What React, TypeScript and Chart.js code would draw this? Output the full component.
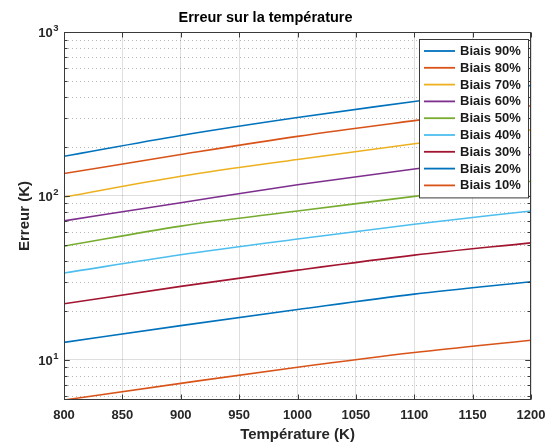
import { useEffect, useRef } from "react";
import { Chart, registerables } from "chart.js";

Chart.register(...registerables);

const temperatures = [800, 900, 1000, 1100, 1200];
const seriesLabels = ["Biais 90%", "Biais 80%", "Biais 70%", "Biais 60%", "Biais 50%", "Biais 40%", "Biais 30%", "Biais 20%", "Biais 10%"];
const bias90 = [174.6, 234, 301, 377, 472];
const bias80 = [137, 179, 231, 288, 355];
const bias70 = [98.6, 132, 167, 208, 253];
const bias60 = [70.5, 91, 117, 146, 179];
const bias50 = [49.4, 65.5, 81, 99.5, 123];
const bias40 = [33.9, 43.8, 54.6, 67.3, 81];
const bias30 = [22.0, 28.1, 35.3, 43.6, 51.8];
const bias20 = [12.8, 16.2, 20.3, 25.2, 30.0];
const bias10 = [5.7, 7.2, 9.03, 11.1, 13.2];
const seriesValues = [bias90, bias80, bias70, bias60, bias50, bias40, bias30, bias20, bias10];
const seriesColors = ["#0072BD", "#D95319", "#EDB120", "#7E2F8E", "#77AC30", "#4DBEEE", "#A2142F", "#0072BD", "#D95319"];
const yDecades = [10, 100, 1000];
const yExponents = ["1", "2", "3"];
const xMin = 800;
const xMax = 1200;
const xStep = 50;

const FONT = "'Liberation Sans', Arial, Helvetica, sans-serif";
const FRAME = "#3a3a3a";

const matlabAxes = {
  id: "matlabAxes",
  beforeDatasetsDraw(chart: any) {
    const { ctx, chartArea: a, scales } = chart;
    const y = scales.y;
    ctx.save();
    ctx.strokeStyle = "rgba(0,0,0,0.28)";
    ctx.lineWidth = 1;
    ctx.setLineDash([1, 3]);
    for (const d of [1, 10, 100]) {
      for (let m = 2; m <= 9; m++) {
        const v = m * d;
        if (v <= y.min || v >= y.max) continue;
        const py = Math.round(y.getPixelForValue(v)) + 0.5;
        ctx.beginPath();
        ctx.moveTo(a.left, py);
        ctx.lineTo(a.right, py);
        ctx.stroke();
      }
    }
    ctx.restore();
  },
  afterDraw(chart: any) {
    const { ctx, chartArea: a, scales } = chart;
    const x = scales.x;
    const y = scales.y;
    ctx.save();
    ctx.strokeStyle = FRAME;
    ctx.lineWidth = 1;
    ctx.setLineDash([]);
    const L = Math.round(a.left) + 0.5;
    const R = Math.round(a.right) - 0.5;
    const T = Math.round(a.top) + 0.5;
    const B = Math.round(a.bottom) - 0.5;
    ctx.strokeRect(L, T, R - L, B - T);
    ctx.beginPath();
    for (let v = xMin; v <= xMax; v += xStep) {
      const px = Math.round(x.getPixelForValue(v)) + 0.5;
      ctx.moveTo(px, B);
      ctx.lineTo(px, B - 5);
      ctx.moveTo(px, T);
      ctx.lineTo(px, T + 5);
    }
    for (const d of [1, 10, 100]) {
      for (let m = 1; m <= 10; m++) {
        const v = m * d;
        if (v < y.min || v > y.max) continue;
        const len = m === 1 || m === 10 ? 5 : 3;
        const py = Math.round(y.getPixelForValue(v)) + 0.5;
        ctx.moveTo(L, py);
        ctx.lineTo(L + len, py);
        ctx.moveTo(R, py);
        ctx.lineTo(R - len, py);
      }
    }
    ctx.stroke();

    // y tick labels as 10 with superscript exponent
    ctx.fillStyle = "#262626";
    ctx.textBaseline = "alphabetic";
    yDecades.forEach((v, i) => {
      const py = y.getPixelForValue(v);
      ctx.font = `bold 9.5px ${FONT}`;
      const expW = ctx.measureText(yExponents[i]).width;
      const right = L - 6;
      ctx.textAlign = "right";
      ctx.fillText(yExponents[i], right, py - 1);
      ctx.font = `bold 13px ${FONT}`;
      ctx.fillText("10", right - expW - 0.5, py + 5);
    });

    // legend
    const boxRight = Math.round(a.right) - 3;
    const boxLeft = boxRight - 109;
    const boxTop = Math.round(a.top) + 7;
    const rowH = 16.8;
    const n = chart.data.datasets.length;
    const boxBottom = boxTop + 12 + (n - 1) * rowH + 12;
    ctx.fillStyle = "#ffffff";
    ctx.fillRect(boxLeft, boxTop, boxRight - boxLeft, boxBottom - boxTop);
    ctx.strokeStyle = FRAME;
    ctx.strokeRect(boxLeft + 0.5, boxTop + 0.5, boxRight - boxLeft, boxBottom - boxTop);
    ctx.font = `bold 13px ${FONT}`;
    ctx.textBaseline = "middle";
    ctx.textAlign = "left";
    chart.data.datasets.forEach((ds: any, i: number) => {
      const cy = boxTop + 12 + i * rowH;
      ctx.strokeStyle = ds.borderColor;
      ctx.lineWidth = 1.8;
      ctx.beginPath();
      ctx.moveTo(boxLeft + 5, cy);
      ctx.lineTo(boxLeft + 36, cy);
      ctx.stroke();
      ctx.fillStyle = "#1a1a1a";
      ctx.fillText(ds.label, boxLeft + 41, cy + 0.5);
    });
    ctx.restore();
  },
};

export default function App() {
  const canvasRef = useRef<HTMLCanvasElement | null>(null);

  useEffect(() => {
    if (!canvasRef.current) return;
    const allValues = seriesValues.flat();
    const chart = new Chart(canvasRef.current, {
      type: "line",
      data: {
        datasets: seriesValues.map((vals, i) => ({
          label: seriesLabels[i],
          data: temperatures.map((t, j) => ({ x: t, y: vals[j] })),
          borderColor: seriesColors[i],
          backgroundColor: seriesColors[i],
          borderWidth: 1.6,
          pointRadius: 0,
          cubicInterpolationMode: "monotone" as const,
          fill: false,
        })),
      },
      options: {
        responsive: false,
        animation: false,
        devicePixelRatio: 1,
        layout: { padding: { left: 0, right: 23, top: 0, bottom: 0 } },
        plugins: {
          legend: { display: false },
          tooltip: { enabled: false },
          title: {
            display: true,
            text: "Erreur sur la température",
            color: "#000000",
            font: { family: FONT, size: 14.5, weight: "bold" },
            padding: { top: 9, bottom: 5.6 },
          },
        },
        scales: {
          x: {
            type: "linear",
            min: xMin,
            max: xMax,
            ticks: {
              stepSize: xStep,
              color: "#262626",
              font: { family: FONT, size: 13, weight: "bold" },
              padding: 8,
              maxRotation: 0,
              callback: (v: any) => String(v),
            },
            grid: { color: "rgba(0,0,0,0.13)", drawTicks: false, lineWidth: 1 },
            border: { display: false },
            title: {
              display: true,
              text: "Température (K)",
              color: "#262626",
              font: { family: FONT, size: 15, weight: "bold" },
              padding: { top: 0, bottom: 3 },
            },
            afterFit(scale: any) {
              scale.height = 47;
            },
          },
          y: {
            type: "logarithmic",
            min: Math.min(...allValues),
            max: 1000,
            afterBuildTicks(scale: any) {
              scale.ticks = yDecades.map((v) => ({ value: v }));
            },
            ticks: {
              display: false,
            },
            grid: { color: "rgba(0,0,0,0.13)", drawTicks: false, lineWidth: 1 },
            border: { display: false },
            title: {
              display: true,
              text: "Erreur (K)",
              color: "#262626",
              font: { family: FONT, size: 15, weight: "bold" },
              padding: { top: 16, bottom: 0 },
            },
            afterFit(scale: any) {
              scale.width = 64;
            },
          },
        },
      },
      plugins: [matlabAxes],
    });
    return () => chart.destroy();
  }, []);

  return (
    <div style={{ position: "fixed", left: 0, top: 0, width: 554, height: 447, background: "#ffffff" }}>
      <canvas ref={canvasRef} width={554} height={447} style={{ display: "block" }} />
    </div>
  );
}
